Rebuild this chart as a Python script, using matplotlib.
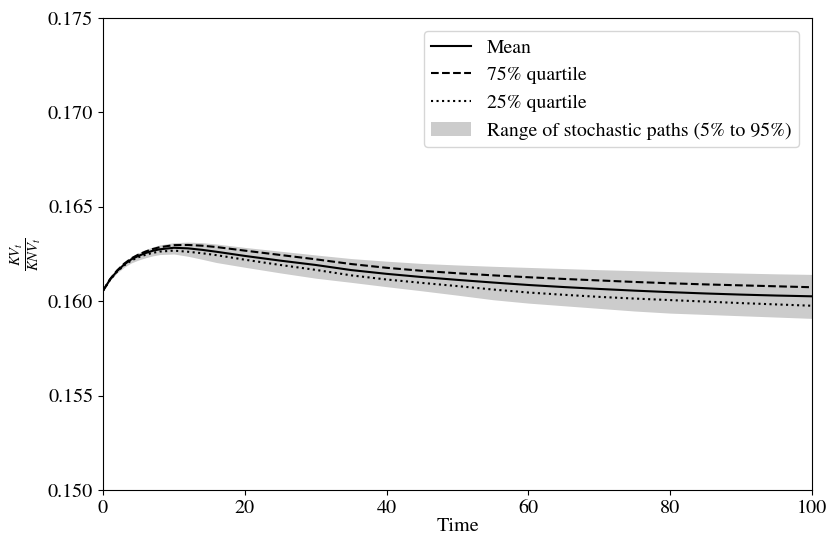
import numpy as np
import matplotlib.pyplot as plt

plt.rcParams['font.family'] = ['STIXGeneral', 'DejaVu Serif']
plt.rcParams['mathtext.fontset'] = 'stix'
plt.rcParams['font.size'] = 14

# simulation output: mean, quartiles and 5%/95% envelope of KV/KNV
time = [0, 1, 2, 3, 4, 5, 6, 7, 8, 10, 12, 14, 16, 20, 25, 30, 35, 40,
        45, 50, 55, 60, 65, 70, 75, 80, 85, 90, 95, 100]
mean = [0.16055, 0.16115, 0.16160, 0.16195, 0.16222, 0.16240, 0.16255,
        0.16267, 0.16275, 0.16283, 0.16280, 0.16272, 0.16262, 0.16240,
        0.16215, 0.16192, 0.16165, 0.16145, 0.16128, 0.16113, 0.16099,
        0.16086, 0.16075, 0.16065, 0.16056, 0.16048, 0.16041, 0.16035,
        0.16030, 0.16026]
q75 = [0.16055, 0.16117, 0.16163, 0.16199, 0.16227, 0.16247, 0.16263,
       0.16276, 0.16286, 0.16297, 0.16298, 0.16294, 0.16287, 0.16268,
       0.16245, 0.16222, 0.16197, 0.16177, 0.16161, 0.16148, 0.16137,
       0.16127, 0.16118, 0.16110, 0.16102, 0.16095, 0.16089, 0.16084,
       0.16079, 0.16074]
q25 = [0.16055, 0.16113, 0.16157, 0.16190, 0.16216, 0.16233, 0.16246,
       0.16256, 0.16263, 0.16268, 0.16262, 0.16254, 0.16244, 0.16220,
       0.16192, 0.16166, 0.16137, 0.16115, 0.16097, 0.16080, 0.16062,
       0.16046, 0.16034, 0.16023, 0.16014, 0.16006, 0.15998, 0.15990,
       0.15983, 0.15976]
p95 = [0.16055, 0.16120, 0.16168, 0.16205, 0.16235, 0.16256, 0.16273,
       0.16287, 0.16298, 0.16310, 0.16313, 0.16310, 0.16303, 0.16285,
       0.16265, 0.16245, 0.16226, 0.16212, 0.16200, 0.16192, 0.16185,
       0.16179, 0.16173, 0.16167, 0.16162, 0.16157, 0.16153, 0.16149,
       0.16145, 0.16142]
p5 = [0.16055, 0.16110, 0.16150, 0.16180, 0.16203, 0.16218, 0.16230,
      0.16240, 0.16247, 0.16250, 0.16238, 0.16222, 0.16205, 0.16180,
      0.16150, 0.16122, 0.16100, 0.16077, 0.16055, 0.16032, 0.16008,
      0.15990, 0.15976, 0.15962, 0.15948, 0.15937, 0.15930, 0.15923,
      0.15916, 0.15909]

fig = plt.figure(figsize=(8.29, 5.38), dpi=100)
ax = fig.add_axes([0.1242, 0.0892, 0.8553, 0.8773])

ax.fill_between(time, p5, p95, color='#cccccc', linewidth=0,
                label='Range of stochastic paths (5% to 95%)')
ax.plot(time, mean, color='black', linestyle='-', linewidth=1.5, label='Mean')
ax.plot(time, q75, color='black', linestyle='--', linewidth=1.5, label='75% quartile')
ax.plot(time, q25, color='black', linestyle=':', linewidth=1.5, label='25% quartile')

ax.set_xlim(0, 100)
ax.set_ylim(0.150, 0.175)
ax.set_xticks([0, 20, 40, 60, 80, 100])
ax.set_yticks([0.150, 0.155, 0.160, 0.165, 0.170, 0.175])
ax.tick_params(labelsize=14.5)
ax.set_xlabel('Time', fontsize=14.5, labelpad=1)
ax.set_ylabel(r'$\frac{KV_t}{KNV_t}$', fontsize=15, labelpad=3)

handles, labels = ax.get_legend_handles_labels()
order = [1, 2, 3, 0]
ax.legend([handles[i] for i in order], [labels[i] for i in order],
          loc='upper right', fontsize=14.2, borderaxespad=0.65)

fig.savefig('out.png', dpi=100)
